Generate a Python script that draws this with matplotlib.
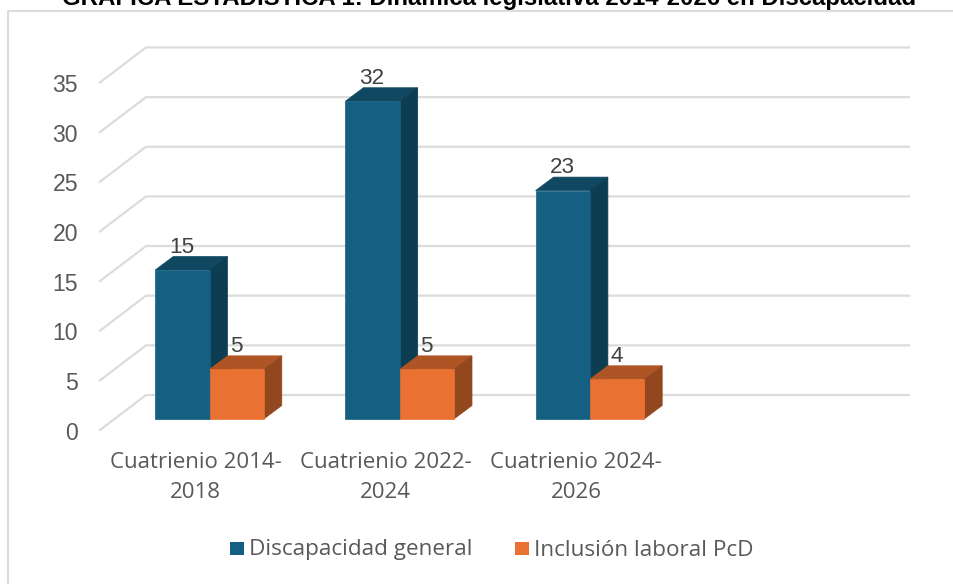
#!/usr/bin/env python3
import matplotlib
matplotlib.use("Agg")
import matplotlib.pyplot as plt
from matplotlib.patches import Polygon, Rectangle

categories = ["Cuatrienio 2014-\n2018", "Cuatrienio 2022-\n2024", "Cuatrienio 2024-\n2026"]
general = [15, 32, 23]
laboral = [5, 5, 4]
y_ticks = [0, 5, 10, 15, 20, 25, 30, 35]
series_names = ["Discapacidad general", "Inclusión laboral PcD"]
title = "GRÁFICA ESTADÍSTICA 1: Dinámica legislativa 2014-2026 en Discapacidad"

W, H = 954, 584
GROUP = 190.2   # px per category
UNIT = 9.93     # px per value unit
GREY = "#595959"
GRID = "#dcdcdc"

plt.rcParams["font.family"] = ["Open Sans", "DejaVu Sans"]

fig = plt.figure(figsize=(W / 100, H / 100), dpi=100)
ax = fig.add_axes([0, 0, 1, 1])
# one category = GROUP px, one value = UNIT px, first group centred at px 209.5, zero at px 419
ax.set_xlim(-209.5 / GROUP, (W - 209.5) / GROUP)
ax.set_ylim((419 - H) / UNIT, 419 / UNIT)
ax.axis("off")


def dx(px):
    return px / GROUP


def dy(px):
    return px / UNIT


# chart frame, only left and top edges are inside the crop
ax.plot([dx(7.5 - 209.5), dx(7.5 - 209.5), dx(W - 209.5)],
        [(419 - H) / UNIT, dy(419 - 11), dy(419 - 11)], color=GRID, lw=1.5, zorder=1)

# walls: slanted piece on the left, flat piece on the back
left, back, right = dx(100 - 209.5), dx(146 - 209.5), dx(909 - 209.5)
for v in y_ticks:
    ax.plot([left, back, right], [v - dy(11), v + dy(24), v + dy(24)],
            color=GRID, lw=1.6, zorder=2, solid_joinstyle="miter")
    ax.text(dx(78 - 209.5), v - dy(11.5), str(v), ha="right", va="center_baseline",
            fontsize=16.6, color=GREY, family="Liberation Sans")


def bar3d(x0, w, h, front, top, side, z):
    ddx, ddy = dx(18), dy(13.5)
    ax.add_patch(Polygon([(x0, 0), (x0 + w, 0), (x0 + w, h), (x0, h)],
                         fc=front, ec=front, lw=0.5, zorder=z + 0.2))
    ax.add_patch(Polygon([(x0, h), (x0 + w, h), (x0 + w + ddx, h + ddy), (x0 + ddx, h + ddy)],
                         fc=top, ec=top, lw=0.5, zorder=z))
    ax.add_patch(Polygon([(x0 + w, 0), (x0 + w + ddx, ddy), (x0 + w + ddx, h + ddy), (x0 + w, h)],
                         fc=side, ec=side, lw=0.5, zorder=z))


bw = 54.3 / GROUP
for i in range(len(categories)):
    bar3d(i - bw, bw, general[i], "#156082", "#104862", "#0d3d50", 3)
    bar3d(i, bw, laboral[i], "#e97132", "#af5525", "#93471e", 4)
    ax.text(i - bw / 2 - dx(0.5), general[i] + dy(25.5), str(general[i]), ha="center", va="center_baseline",
            fontsize=16.2, color="#404040", family="Liberation Sans", zorder=6)
    ax.text(i + bw / 2 - dx(0.5), laboral[i] + dy(25.5), str(laboral[i]), ha="center", va="center_baseline",
            fontsize=16.2, color="#404040", family="Liberation Sans", zorder=6)
    ax.text(i - dx(14), -dy(33.5), categories[i], ha="center", va="top", fontsize=16,
            color=GREY, linespacing=1.5)

# legend drawn by hand to sit where the original does
for px, name, col in [(230, series_names[0], "#156082"), (515, series_names[1], "#e97132")]:
    ax.add_patch(Rectangle((dx(px - 209.5), dy(419 - 555)), dx(13.5), dy(13.5), fc=col, ec="none"))
    ax.text(dx(px + 19 - 209.5), dy(419 - 550), name, ha="left", va="center",
            fontsize=16.2, color=GREY)

# title is cut by the top of the image in the original
ax.text(dx(489.5 - 209.5), dy(419 - 5.5), title, ha="center", va="baseline", fontsize=17.3,
        fontweight="bold", color="black", family="Liberation Sans", clip_on=False)

fig.savefig("out.png", dpi=100, facecolor="white")
